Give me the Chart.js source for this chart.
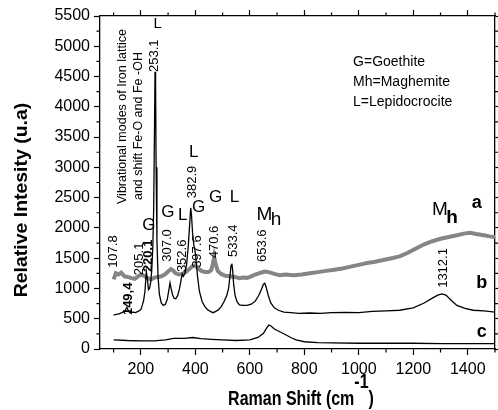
<!DOCTYPE html>
<html>
<head>
<meta charset="utf-8">
<script src="https://cdn.jsdelivr.net/npm/chart.js@4/dist/chart.umd.min.js"></script>
<style>
  html, body { margin: 0; padding: 0; background: #fff; }
</style>
</head>
<body>
<canvas id="chart" width="498" height="410"></canvas>
<script>
// axis ticks
const xMajorTicks = [200, 400, 600, 800, 1000, 1200, 1400];
const xTickLabels = ['200', '400', '600', '800', '1000', '1200', '1400'];
const xMinorTicks = [100, 300, 500, 700, 900, 1100, 1300, 1500];
const yMajorTicks = [0, 500, 1000, 1500, 2000, 2500, 3000, 3500, 4000, 4500, 5000, 5500];
const yTickLabels = ['0', '500', '1000', '1500', '2000', '2500', '3000', '3500', '4000', '4500', '5000', '5500'];
const yMinorTicks = [250, 750, 1250, 1750, 2250, 2750, 3250, 3750, 4250, 4750, 5250];

// spectrum a (grey)
const shiftA = [100, 108, 118, 128, 140, 152, 165, 178, 190, 200, 212, 225, 238, 250, 262, 275, 288, 300, 310, 318,
  328, 340, 352, 365, 378, 390, 400, 410, 422, 435, 448, 458, 464, 469, 474, 482, 495, 510, 525, 545,
  560, 575, 590, 605, 620, 640, 655, 670, 690, 710, 730, 760, 790, 820, 850, 880, 910, 940, 970, 1000,
  1030, 1060, 1090, 1120, 1150, 1180, 1210, 1240, 1270, 1300, 1330, 1360, 1390, 1410, 1430, 1460, 1480, 1500];
const intensityA = [1150, 1250, 1230, 1260, 1200, 1190, 1170, 1160, 1200, 1230, 1210, 1170, 1150, 1180, 1190, 1200, 1230, 1280, 1320, 1300,
  1250, 1230, 1240, 1270, 1320, 1370, 1380, 1330, 1290, 1270, 1270, 1300, 1400, 1520, 1410, 1290, 1240, 1210, 1200, 1190,
  1170, 1180, 1175, 1200, 1230, 1260, 1280, 1270, 1240, 1220, 1230, 1220, 1230, 1250, 1270, 1290, 1310, 1330, 1360, 1390,
  1420, 1440, 1470, 1500, 1530, 1590, 1660, 1730, 1780, 1820, 1850, 1880, 1910, 1920, 1900, 1880, 1860, 1850];

// spectrum b
const shiftB = [100, 110, 120, 130, 140, 149, 155, 160, 170, 180, 190, 200, 205, 210, 215, 220, 224, 228, 232, 236,
  240, 244, 247, 250, 252, 254, 256, 259, 263, 268, 275, 282, 290, 297, 303, 307, 311, 316, 322, 328,
  335, 342, 348, 352, 356, 362, 368, 374, 379, 383, 386, 390, 395, 398, 402, 408, 415, 425, 435, 445,
  455, 465, 475, 485, 495, 505, 515, 522, 527, 531, 534, 537, 541, 546, 553, 562, 575, 590, 605, 620,
  632, 642, 650, 655, 660, 668, 677, 690, 705, 725, 750, 780, 820, 860, 900, 950, 1000, 1050, 1100, 1150,
  1200, 1240, 1270, 1290, 1305, 1320, 1340, 1360, 1390, 1420, 1460, 1500];
const intensityB = [560, 570, 580, 600, 620, 690, 620, 600, 610, 600, 620, 650, 720, 800, 950, 1280, 1150, 980, 1000, 1100,
  1300, 1700, 2300, 3600, 4580, 4400, 3000, 1800, 1200, 900, 760, 720, 740, 820, 980, 1090, 1000, 900, 840, 830,
  880, 1000, 1150, 1240, 1200, 1250, 1400, 1700, 2050, 2330, 2200, 1900, 1700, 1650, 1500, 1200, 950, 780, 700, 650,
  620, 600, 620, 650, 700, 780, 880, 1000, 1200, 1380, 1410, 1300, 1050, 880, 780, 730, 720, 720, 740, 790,
  880, 980, 1070, 1085, 1020, 880, 760, 680, 640, 610, 600, 590, 595, 590, 600, 605, 600, 620, 630, 640,
  680, 760, 840, 890, 910, 890, 800, 720, 670, 640, 630, 610];

// spectrum c
const shiftC = [100, 150, 200, 250, 290, 320, 360, 390, 420, 460, 500, 550, 600, 630, 650, 662, 670, 678, 690, 710,
  730, 750, 770, 800, 850, 900, 1000, 1100, 1200, 1300, 1400, 1500];
const intensityC = [150, 140, 135, 135, 150, 175, 175, 190, 170, 160, 150, 140, 150, 190, 260, 350, 395, 380, 330, 285,
  240, 190, 150, 120, 105, 100, 95, 95, 95, 90, 90, 90];

const FONT = "'Liberation Sans', Arial, sans-serif";

// text placed on the plot, in data units
const peakLabels = [
  { text: '107.8', x: 101, y: 1340 },
  { text: '149,4', x: 156, y: 560, bold: true },
  { text: '205.1', x: 193, y: 1220 },
  { text: '220.1', x: 226, y: 1270, bold: true },
  { text: '253.1', x: 251, y: 4575 },
  { text: '307.0', x: 299, y: 1440 },
  { text: '352.6', x: 354, y: 1270 },
  { text: '382.9', x: 390, y: 2490 },
  { text: '397.6', x: 408, y: 1340 },
  { text: '470.6', x: 471, y: 1500 },
  { text: '533.4', x: 540, y: 1520 },
  { text: '653.6', x: 646, y: 1437 },
  { text: '1312.1', x: 1309, y: 1010 }
];
const phaseMarks = [
  { text: 'L', x: 262, y: 5370, size: 15 },
  { text: 'G', x: 229, y: 2050 },
  { text: 'G', x: 299, y: 2260 },
  { text: 'L', x: 354, y: 2210 },
  { text: 'L', x: 394, y: 3250 },
  { text: 'G', x: 412, y: 2345 },
  { text: 'G', x: 474, y: 2510 },
  { text: 'L', x: 544, y: 2510 }
];
const legendLines = ['G=Goethite', 'Mh=Maghemite', 'L=Lepidocrocite'];

function pts(xs, ys) {
  return xs.map((x, i) => ({ x: x, y: ys[i] }));
}

function rotated(ctx, text, px, py, font, stretch) {
  ctx.save();
  ctx.translate(px, py);
  ctx.rotate(-Math.PI / 2);
  if (stretch) ctx.scale(stretch, 1);
  ctx.font = font;
  ctx.textAlign = 'left';
  ctx.textBaseline = 'middle';
  ctx.fillText(text, 0, 0);
  ctx.restore();
}

function upright(ctx, text, px, py, font) {
  ctx.font = font;
  ctx.textAlign = 'center';
  ctx.textBaseline = 'middle';
  ctx.fillText(text, px, py);
}

const textLayer = {
  id: 'textLayer',
  afterDraw(chart) {
    const ctx = chart.ctx;
    const area = chart.chartArea;
    const X = v => chart.scales.x.getPixelForValue(v);
    const Y = v => chart.scales.y.getPixelForValue(v);
    ctx.save();

    // minor ticks on all four sides
    ctx.strokeStyle = '#000';
    ctx.lineWidth = 1.2;
    ctx.beginPath();
    xMinorTicks.forEach(v => {
      const p = X(v);
      ctx.moveTo(p, area.bottom); ctx.lineTo(p, area.bottom + 3.5);
      ctx.moveTo(p, area.top); ctx.lineTo(p, area.top - 3.5);
    });
    yMinorTicks.forEach(v => {
      const p = Y(v);
      ctx.moveTo(area.left, p); ctx.lineTo(area.left - 3.5, p);
      ctx.moveTo(area.right, p); ctx.lineTo(area.right + 3.5, p);
    });
    ctx.stroke();

    ctx.fillStyle = '#000';
    peakLabels.forEach(l => {
      rotated(ctx, l.text, X(l.x), Y(l.y), (l.bold ? 'bold ' : '') + '13px ' + FONT);
    });
    phaseMarks.forEach(m => {
      upright(ctx, m.text, X(m.x), Y(m.y), (m.size || 17) + 'px ' + FONT);
    });

    // maghemite marks
    upright(ctx, 'M', X(654), Y(2221), '19px ' + FONT);
    upright(ctx, 'h', X(696), Y(2130), '19px ' + FONT);
    upright(ctx, 'M', X(1298), Y(2296), '19px ' + FONT);
    upright(ctx, 'h', X(1342), Y(2163), 'bold 19px ' + FONT);

    // series names
    upright(ctx, 'a', X(1433), Y(2411), 'bold 18px ' + FONT);
    upright(ctx, 'b', X(1451), Y(1090), 'bold 18px ' + FONT);
    upright(ctx, 'c', X(1451), Y(281), 'bold 18px ' + FONT);

    // key
    ctx.font = '14px ' + FONT;
    ctx.textAlign = 'left';
    ctx.textBaseline = 'middle';
    legendLines.forEach((t, i) => ctx.fillText(t, X(979), Y(4740) + i * 20));

    rotated(ctx, 'Vibrational modes of Iron lattice', X(134), Y(2395), '12.5px ' + FONT);
    rotated(ctx, 'and shift Fe-O and Fe -OH', X(193), Y(2460), '12.5px ' + FONT);

    // axis titles
    ctx.save();
    ctx.translate(22, 200);
    ctx.rotate(-Math.PI / 2);
    ctx.scale(1.08, 1);
    ctx.font = 'bold 18px ' + FONT;
    ctx.textAlign = 'center';
    ctx.textBaseline = 'middle';
    ctx.fillText('Relative Intesity (u.a)', 0, 0);
    ctx.restore();

    ctx.save();
    ctx.font = 'bold 16px ' + FONT;
    ctx.textBaseline = 'alphabetic';
    ctx.textAlign = 'left';
    const t1 = 'Raman Shift (cm', t2 = '-1', t3 = ')';
    const w1 = ctx.measureText(t1).width, w2 = ctx.measureText(t2).width, w3 = ctx.measureText(t3).width;
    let x0 = 301 - (w1 + w2 + w3) / 2;
    ctx.translate(0, 405);
    ctx.scale(1, 1.25);
    ctx.fillText(t1, x0, 0);
    ctx.fillText(t2, x0 + w1, -14);
    ctx.fillText(t3, x0 + w1 + w2, 0);
    ctx.restore();

    ctx.restore();
  }
};

const tickFont = { family: FONT, size: 16 };
const axisGrid = { display: true, drawOnChartArea: false, tickLength: 6, color: '#000', tickWidth: 1.2 };
const axisBorder = { display: true, color: '#000', width: 1.3 };

new Chart(document.getElementById('chart'), {
  type: 'line',
  data: {
    datasets: [
      { label: 'b', data: pts(shiftB, intensityB), borderColor: '#000', borderWidth: 1.3 },
      { label: 'c', data: pts(shiftC, intensityC), borderColor: '#000', borderWidth: 1.3 },
      { label: 'a', data: pts(shiftA, intensityA), borderColor: '#858585', borderWidth: 4 }
    ]
  },
  options: {
    responsive: false,
    animation: false,
    parsing: true,
    elements: { point: { radius: 0 }, line: { tension: 0, fill: false } },
    layout: { padding: 0 },
    plugins: { legend: { display: false }, tooltip: { enabled: false } },
    scales: {
      x: {
        type: 'linear', position: 'bottom', min: 50, max: 1500,
        afterBuildTicks: s => { s.ticks = xMajorTicks.map(v => ({ value: v })); },
        afterFit: s => { s.height = 61; },
        grid: axisGrid, border: axisBorder,
        ticks: { font: tickFont, color: '#000', padding: 5, maxRotation: 0, autoSkip: false,
          callback: (v, i) => xTickLabels[i] }
      },
      x2: {
        type: 'linear', position: 'top', min: 50, max: 1500,
        afterBuildTicks: s => { s.ticks = xMajorTicks.map(v => ({ value: v })); },
        afterFit: s => { s.height = 16; },
        grid: axisGrid, border: axisBorder,
        ticks: { display: false }
      },
      y: {
        type: 'linear', position: 'left', min: 0, max: 5500,
        afterBuildTicks: s => { s.ticks = yMajorTicks.map(v => ({ value: v })); },
        afterFit: s => { s.width = 100; },
        grid: axisGrid, border: axisBorder,
        ticks: { font: tickFont, color: '#000', padding: 4, autoSkip: false,
          callback: (v, i) => yTickLabels[i] }
      },
      y2: {
        type: 'linear', position: 'right', min: 0, max: 5500,
        afterBuildTicks: s => { s.ticks = yMajorTicks.map(v => ({ value: v })); },
        afterFit: s => { s.width = 3; },
        grid: axisGrid, border: axisBorder,
        ticks: { display: false }
      }
    }
  },
  plugins: [textLayer]
});
</script>
</body>
</html>
